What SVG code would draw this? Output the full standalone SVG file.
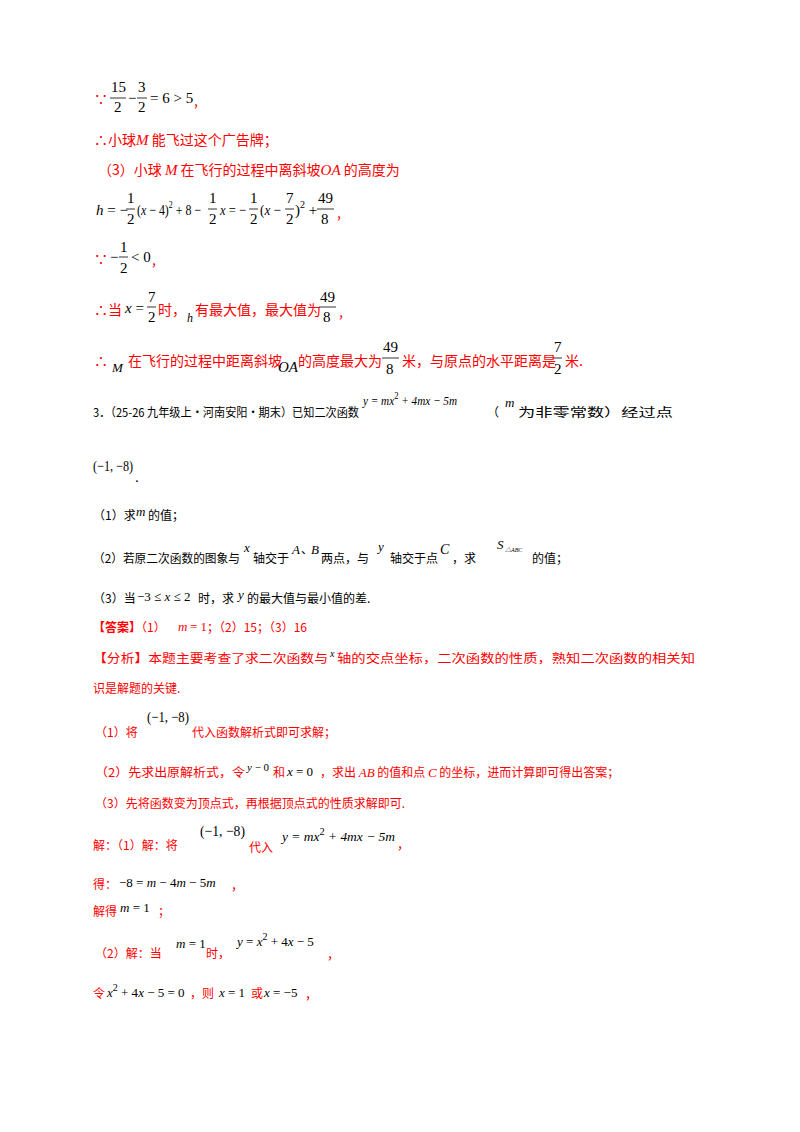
<svg xmlns="http://www.w3.org/2000/svg" width="800" height="1132" viewBox="0 0 800 1132">
<style>
text{font-family:"Noto Sans CJK SC","Liberation Sans",sans-serif;font-size:14px;fill:#000}
.r{fill:#ff0000}
.k{fill:#000}
.t{font-size:12px}
.m{font-family:"Liberation Serif","Noto Sans CJK SC",serif;font-size:15px}
.i{font-style:italic}
.s{font-size:10px}
.b{font-weight:bold}
line{stroke:#000;stroke-width:0.8}
</style>
<rect width="800" height="1132" fill="#fff"/>
<!-- line 1 -->
<text x="94" y="104" class="r">∵</text>
<text x="111" y="92" class="m">15</text><line x1="110" y1="98" x2="126" y2="98"/><text x="114" y="112" class="m">2</text>
<text x="128" y="103" class="m">−</text>
<text x="138" y="92" class="m">3</text><line x1="137" y1="98" x2="147" y2="98"/><text x="138" y="112" class="m">2</text>
<text x="150" y="103" class="m">= 6 &gt; 5</text><text x="194" y="106" class="r">,</text>
<!-- line 2 -->
<text x="94" y="145" class="r">∴小球<tspan class="m i">M</tspan> 能飞过这个广告牌；</text>
<!-- line 3 -->
<text x="98" y="175" class="r">（3）小球 <tspan class="m i">M</tspan> 在飞行的过程中离斜坡<tspan class="m i">OA</tspan> 的高度为</text>
<!-- line 4 -->
<text x="96" y="215" class="m"><tspan class="i">h</tspan> = −</text>
<text x="127" y="203" class="m">1</text><line x1="126" y1="209" x2="135" y2="209"/><text x="127" y="224" class="m">2</text>
<text x="137" y="215" class="m" textLength="64" lengthAdjust="spacingAndGlyphs">(<tspan class="i">x</tspan> − 4)<tspan class="s" dy="-7">2</tspan><tspan dy="7"> + 8 −</tspan></text>
<text x="209" y="203" class="m">1</text><line x1="208" y1="209" x2="217" y2="209"/><text x="209" y="224" class="m">2</text>
<text x="220" y="215" class="m" textLength="26" lengthAdjust="spacingAndGlyphs"><tspan class="i">x</tspan> = −</text>
<text x="250" y="203" class="m">1</text><line x1="249" y1="209" x2="258" y2="209"/><text x="250" y="224" class="m">2</text>
<text x="260" y="215" class="m" textLength="21" lengthAdjust="spacingAndGlyphs">(<tspan class="i">x</tspan> −</text>
<text x="286" y="203" class="m">7</text><line x1="285" y1="209" x2="294" y2="209"/><text x="286" y="224" class="m">2</text>
<text x="295" y="215" class="m">)<tspan class="s" dy="-7">2</tspan><tspan dy="7"> +</tspan></text>
<text x="318" y="203" class="m">49</text><line x1="317" y1="209" x2="334" y2="209"/><text x="321" y="224" class="m">8</text>
<text x="337" y="218" class="r">,</text>
<!-- line 5 -->
<text x="94" y="264" class="r">∵</text>
<text x="110" y="262" class="m">−</text>
<text x="120" y="252" class="m">1</text><line x1="119" y1="257" x2="128" y2="257"/><text x="120" y="273" class="m">2</text>
<text x="131" y="262" class="m">&lt; 0</text><text x="152" y="265" class="r">,</text>
<!-- line 6 -->
<text x="94" y="315" class="r">∴当</text>
<text x="125" y="313" class="m"><tspan class="i">x</tspan> =</text>
<text x="148" y="302" class="m">7</text><line x1="147" y1="307" x2="156" y2="307"/><text x="148" y="322" class="m">2</text>
<text x="158" y="315" class="r">时，</text>
<text x="187" y="322" class="m i" style="font-size:12px">h</text>
<text x="195" y="315" class="r">有最大值，最大值为</text>
<text x="320" y="302" class="m">49</text><line x1="319" y1="307" x2="336" y2="307"/><text x="323" y="322" class="m">8</text>
<text x="339" y="317" class="r">,</text>
<!-- line 7 -->
<text x="94" y="366" class="r">∴</text>
<text x="112" y="372" class="m i" style="font-size:13px">M</text>
<text x="128" y="366" class="r">在飞行的过程中距离斜坡</text>
<text x="278" y="372" class="m i">OA</text>
<text x="298" y="366" class="r">的高度最大为</text>
<text x="383" y="352" class="m">49</text><line x1="382" y1="358" x2="399" y2="358"/><text x="386" y="374" class="m">8</text>
<text x="402" y="366" class="r">米，与原点的水平距离是</text>
<text x="554" y="352" class="m">7</text><line x1="553" y1="358" x2="562" y2="358"/><text x="554" y="374" class="m">2</text>
<text x="565" y="366" class="r">米.</text>
<!-- question 3 -->
<text x="93" y="417" class="t" textLength="266" lengthAdjust="spacingAndGlyphs">3．（25-26 九年级上·河南安阳·期末）已知二次函数</text>
<text x="363" y="405" class="m i" style="font-size:13px" textLength="94" lengthAdjust="spacingAndGlyphs">y = mx<tspan class="s" dy="-6" style="font-style:normal">2</tspan><tspan dy="6"> + 4mx − 5m</tspan></text>
<text x="487" y="417" class="t">（</text><text x="505" y="407" class="m i" style="font-size:13px">m</text>
<text x="518" y="417" class="t" textLength="155" lengthAdjust="spacingAndGlyphs">为非零常数）经过点</text>
<text x="93" y="471" class="m" textLength="40" lengthAdjust="spacingAndGlyphs">(−1, −8)</text><text x="135" y="482" class="m">.</text>
<text x="93" y="520" class="t">（1）求</text><text x="136" y="516" class="m i" style="font-size:13px">m</text><text x="148" y="520" class="t">的值；</text>
<text x="93" y="563" class="t" textLength="147" lengthAdjust="spacingAndGlyphs">（2）若原二次函数的图象与</text>
<text x="244" y="552" class="m i" style="font-size:13px">x</text>
<text x="253" y="563" class="t">轴交于</text>
<text x="292" y="554" class="m i" style="font-size:13px">A</text><text x="301" y="554" class="t">、</text><text x="311" y="554" class="m i" style="font-size:13px">B</text>
<text x="321" y="563" class="t">两点，与</text>
<text x="378" y="551" class="m i" style="font-size:13px">y</text>
<text x="390" y="563" class="t">轴交于点</text>
<text x="440" y="554" class="m i" style="font-size:14px">C</text>
<text x="452" y="563" class="t">，求</text>
<text x="497" y="549" class="m i" style="font-size:13px">S</text><text x="505" y="552" class="m i" style="font-size:6px">△ABC</text>
<text x="532" y="563" class="t">的值；</text>
<text x="93" y="603" class="t">（3）当</text><text x="137" y="601" class="m" style="font-size:13px">−3 ≤ <tspan class="i">x</tspan> ≤ 2</text>
<text x="198" y="603" class="t">时，求</text><text x="238" y="599" class="m i" style="font-size:13px">y</text>
<text x="247" y="603" class="t">的最大值与最小值的差.</text>
<text x="93" y="632" class="t r"><tspan class="b">【答案】</tspan>（1）</text>
<text x="178" y="631" class="m i r" style="font-size:13px">m</text><text x="190" y="631" class="m r" style="font-size:13px">= 1</text>
<text x="207" y="632" class="t r">；（2）15；（3）16</text>
<!-- analysis -->
<text x="93" y="663" class="t r" textLength="235" lengthAdjust="spacingAndGlyphs">【分析】本题主要考查了求二次函数与</text>
<text x="330" y="657" class="m i" style="font-size:10px">x</text>
<text x="337" y="663" class="t r" textLength="358" lengthAdjust="spacingAndGlyphs">轴的交点坐标，二次函数的性质，熟知二次函数的相关知</text>
<text x="93" y="693" class="t r">识是解题的关键.</text>
<text x="95" y="737" class="t r">（1）将</text>
<text x="147" y="722" class="m" textLength="42" lengthAdjust="spacingAndGlyphs">(−1, −8)</text>
<text x="192" y="737" class="t r">代入函数解析式即可求解；</text>
<text x="95" y="777" class="t r" textLength="150" lengthAdjust="spacingAndGlyphs">（2）先求出原解析式，令</text>
<text x="247" y="771" class="m" style="font-size:11px"><tspan class="i">y</tspan> − 0</text>
<text x="273" y="777" class="t r">和</text>
<text x="287" y="776" class="m" style="font-size:13px"><tspan class="i">x</tspan> = 0</text>
<text x="320" y="777" class="t r">，求出 <tspan class="m i r" style="font-size:13px">AB</tspan> 的值和点 <tspan class="m i r" style="font-size:13px">C</tspan> 的坐标，进而计算即可得出答案；</text>
<text x="95" y="808" class="t r">（3）先将函数变为顶点式，再根据顶点式的性质求解即可.</text>
<text x="93" y="850" class="t r">解：（1）解：将</text>
<text x="200" y="836" class="m" textLength="45" lengthAdjust="spacingAndGlyphs">(−1, −8)</text>
<text x="249" y="852" class="t r">代入</text>
<text x="282" y="841" class="m i" style="font-size:13px" textLength="113" lengthAdjust="spacingAndGlyphs">y = mx<tspan class="s" dy="-6" style="font-style:normal">2</tspan><tspan dy="6"> + 4mx − 5m</tspan></text>
<text x="398" y="848" class="r">,</text>
<text x="93" y="889" class="t r">得：</text><text x="119" y="887" class="m" style="font-size:13px">−8 = <tspan class="i">m</tspan> − 4<tspan class="i">m</tspan> − 5<tspan class="i">m</tspan></text><text x="232" y="889" class="r">,</text>
<text x="93" y="916" class="t r">解得</text><text x="120" y="912" class="m" style="font-size:13px"><tspan class="i">m</tspan> = 1</text><text x="158" y="916" class="t r">；</text>
<text x="95" y="958" class="t r">（2）解：当</text>
<text x="176" y="948" class="m" style="font-size:13px"><tspan class="i">m</tspan> = 1</text>
<text x="206" y="958" class="t r">时，</text>
<text x="237" y="946" class="m" style="font-size:13px"><tspan class="i">y</tspan> = <tspan class="i">x</tspan><tspan class="s" dy="-6">2</tspan><tspan dy="6"> + 4<tspan class="i">x</tspan> − 5</tspan></text>
<text x="328" y="958" class="r">,</text>
<text x="93" y="998" class="t r">令</text><text x="107" y="997" class="m" style="font-size:13px"><tspan class="i">x</tspan><tspan class="s" dy="-6">2</tspan><tspan dy="6"> + 4<tspan class="i">x</tspan> − 5 = 0</tspan></text>
<text x="190" y="998" class="t r">，则</text><text x="219" y="997" class="m" style="font-size:13px"><tspan class="i">x</tspan> = 1</text>
<text x="251" y="998" class="t r">或</text><text x="264" y="997" class="m" style="font-size:13px"><tspan class="i">x</tspan> = −5</text><text x="306" y="998" class="r">,</text>
</svg>
